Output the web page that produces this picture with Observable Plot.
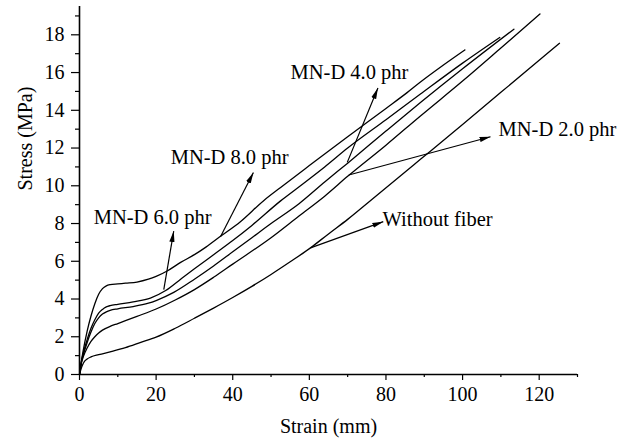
<!DOCTYPE html>
<html><head><meta charset="utf-8">
<script src="https://cdn.jsdelivr.net/npm/d3@7"></script>
<script src="https://cdn.jsdelivr.net/npm/@observablehq/plot@0.6"></script>
<style>
body{margin:0;background:#fff}
svg{font-family:"Liberation Serif","Times New Roman",serif}
</style>
</head><body><div id="chart"></div>
<script>
// ---- data ----
const seriesNames = ["Without fiber", "MN-D 2.0 phr", "MN-D 4.0 phr", "MN-D 6.0 phr", "MN-D 8.0 phr"];

const strainWithout = [0,0.5,1,2,3,5,8,12,16,20,25,30,35,40,45,50,55,60.3,65,70,76,89,100,110,125.3];
const stressWithout = [0,0.35,0.6,0.82,0.93,1.05,1.2,1.42,1.7,1.98,2.45,2.98,3.52,4.08,4.67,5.3,5.97,6.71,7.45,8.22,9.22,11.4,13.25,14.95,17.55];

const strain20 = [0,0.5,1,2,3,4,5,6,8,10,12,15,20,25,30,35,40,50,57.3,64,70,80,89,100,110,120.2];
const stress20 = [0,0.6,0.95,1.4,1.75,2.0,2.2,2.35,2.55,2.7,2.85,3.08,3.47,3.95,4.5,5.15,5.85,7.25,8.4,9.45,10.5,12.15,13.7,15.55,17.3,19.1];

const strain40 = [0,0.5,1,2,3,4,5,6,7,8,10,14,18,20,24.6,30,35,40,45,50,57.3,64,70,80,89,100,113.4];
const stress40 = [0,0.65,1.05,1.7,2.25,2.7,3.0,3.2,3.32,3.4,3.48,3.6,3.78,3.92,4.35,5.05,5.75,6.5,7.25,8.0,9.05,10.2,11.2,12.9,14.41,16.2,18.3];

const strain60 = [0,0.5,1,2,3,4,5,6,7,8,10,14,18.5,22.5,26.4,30,35,40,45,52.5,57,64,70,80,89,100,109.7];
const stress60 = [0,0.7,1.15,1.85,2.45,2.9,3.25,3.45,3.58,3.65,3.72,3.85,4.05,4.45,5.05,5.6,6.35,7.1,7.9,9.2,9.9,11.0,12.0,13.5,14.86,16.5,17.86];

const strain80 = [0,0.5,1,2,3,4,5,6,7,8,10,12,15,18,20,23,26.4,30,33,37,42,48,52.5,60,70,80,85.6,89,95,100.6];
const stress80 = [0,0.7,1.3,2.3,3.1,3.75,4.25,4.55,4.7,4.76,4.8,4.84,4.9,5.05,5.2,5.5,5.94,6.35,6.75,7.35,8.1,9.2,9.91,11.07,12.6,14.1,14.95,15.5,16.4,17.2];

// annotation arrows (tail on curve -> head near label), in data units
const arrowFromX = [36.8, 22.0, 69.9, 70.3, 60.3];
const arrowFromY = [7.3, 4.5, 11.24, 10.57, 6.71];
const arrowToX   = [45.4, 24.6, 77.9, 107.3, 79.3];
const arrowToY   = [10.7, 7.6, 15.18, 12.6, 8.1];

// labels (left x, baseline y) in data units
const labelText = ["MN-D 8.0 phr", "MN-D 6.0 phr", "MN-D 4.0 phr", "MN-D 2.0 phr", "Without fiber"];
const labelX = [23.8, 3.7, 55.1, 109.4, 79.1];
const labelY = [11.17, 7.99, 15.67, 12.65, 7.88];

const xMajorTicks = [0, 20, 40, 60, 80, 100, 120];
const xMinorTicks = [10, 30, 50, 70, 90, 110, 130];
const yMajorTicks = [0, 2, 4, 6, 8, 10, 12, 14, 16, 18];
const yMinorTicks = [1, 3, 5, 7, 9, 11, 13, 15, 17, 19];

// ---- build tables ----
const seriesData = [
  [seriesNames[0], strainWithout, stressWithout],
  [seriesNames[1], strain20, stress20],
  [seriesNames[2], strain40, stress40],
  [seriesNames[3], strain60, stress60],
  [seriesNames[4], strain80, stress80]
];
const rows = seriesData.flatMap(([name, xs, ys]) => xs.map((x, i) => ({series: name, strain: x, stress: ys[i]})));
const arrows = arrowFromX.map((x, i) => ({x1: x, y1: arrowFromY[i], x2: arrowToX[i], y2: arrowToY[i]}));
const labels = labelText.map((t, i) => ({text: t, x: labelX[i], y: labelY[i]}));

const plot = Plot.plot({
  width: 621, height: 443,
  marginLeft: 79, marginRight: 44, marginTop: 6, marginBottom: 69,
  style: {fontFamily: "Liberation Serif, Times New Roman, serif", fontSize: "20px", color: "black", background: "white", overflow: "visible"},
  x: {domain: [0, 130], label: null},
  y: {domain: [0, 19.5], label: null},
  marks: [
    Plot.axisX(xMajorTicks, {tickSize: 6, tickPadding: 6, strokeWidth: 1.2, label: null, fontSize: 20}),
    Plot.axisX(xMinorTicks, {tickSize: 3, tickFormat: () => "", strokeWidth: 1.2, label: null}),
    Plot.axisY(yMajorTicks, {tickSize: 8, tickPadding: 7, strokeWidth: 1.2, label: null, fontSize: 20}),
    Plot.axisY(yMinorTicks, {tickSize: 4, tickFormat: () => "", strokeWidth: 1.2, label: null}),
    Plot.ruleX([0], {strokeWidth: 1.6}),
    Plot.ruleY([0], {strokeWidth: 1.6}),
    Plot.line(rows, {x: "strain", y: "stress", z: "series", curve: "monotone-x", stroke: "black", strokeWidth: 1.3}),
    Plot.link(arrows, {x1: "x1", y1: "y1", x2: "x2", y2: "y2", stroke: "black", strokeWidth: 1.2, markerEnd: "arrow"}),
    Plot.text(labels, {x: "x", y: "y", text: "text", textAnchor: "start", lineAnchor: "bottom", fontSize: 20.5, fill: "black"}),
    Plot.text(["Strain (mm)"], {frameAnchor: "bottom", dy: 58, lineAnchor: "bottom", fontSize: 20, fill: "black"}),
    Plot.text(["Stress (MPa)"], {frameAnchor: "left", dx: -48, rotate: -90, lineAnchor: "bottom", fontSize: 20, fill: "black"})
  ]
});

// make arrowheads filled triangles
plot.querySelectorAll("marker").forEach(m => {
  m.setAttribute("viewBox", "-11 -3 11 6");
  m.setAttribute("markerWidth", "11");
  m.setAttribute("markerHeight", "6");
  m.setAttribute("markerUnits", "userSpaceOnUse");
  m.setAttribute("refX", "0");
  m.setAttribute("refY", "0");
  m.setAttribute("fill", "black");
  m.setAttribute("stroke", "none");
  m.innerHTML = "";
  const p = document.createElementNS("http://www.w3.org/2000/svg", "path");
  p.setAttribute("d", "M0,0L-11,-2.6L-11,2.6Z");
  m.appendChild(p);
});

document.getElementById("chart").appendChild(plot);
</script>
</body></html>
